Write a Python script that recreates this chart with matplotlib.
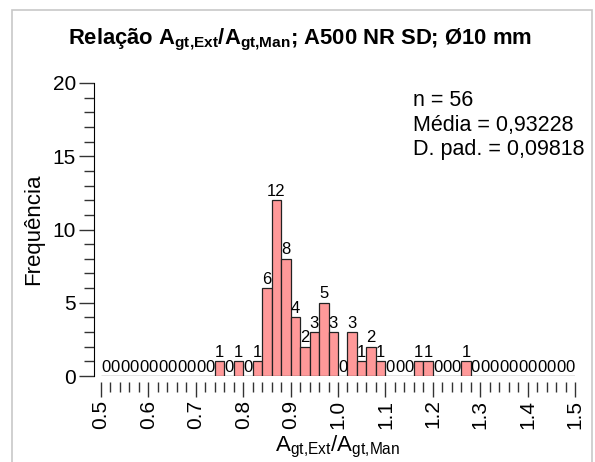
import numpy as np
import matplotlib
matplotlib.use("Agg")
import matplotlib.pyplot as plt
from matplotlib.patches import Rectangle
from matplotlib.ticker import MultipleLocator

plt.rcParams['font.family'] = ['Liberation Sans', 'DejaVu Sans']
plt.rcParams['mathtext.fontset'] = 'custom'
plt.rcParams['mathtext.rm'] = 'Liberation Sans'
plt.rcParams['mathtext.bf'] = 'Liberation Sans:bold'

# Data
bin_start = 0.5
bin_width = 0.02
counts = [0, 0, 0, 0, 0, 0, 0, 0, 0, 0, 0, 0,
          1, 0, 1, 0, 1, 6, 12, 8, 4, 2, 3, 5, 3, 0, 3, 1, 2, 1,
          0, 0, 0, 1, 1, 0, 0, 0, 1,
          0, 0, 0, 0, 0, 0, 0, 0, 0, 0, 0]
x_ticks = [0.5, 0.6, 0.7, 0.8, 0.9, 1.0, 1.1, 1.2, 1.3, 1.4, 1.5]
x_ticklabels = ["0.5", "0.6", "0.7", "0.8", "0.9", "1.0", "1.1", "1.2", "1.3", "1.4", "1.5"]
y_ticks = [0, 5, 10, 15, 20]
stats_lines = ["n = 56", "Média = 0,93228", "D. pad. = 0,09818"]

lefts = bin_start + bin_width * np.arange(len(counts))

fig = plt.figure(figsize=(5.95, 4.62), dpi=100)
ax = fig.add_axes([101/595, 1-376/462, (575-101)/595, (376-83)/462])

bars = ax.bar(lefts, counts, width=bin_width, align='edge',
              color='#ff9999', edgecolor='#222222', linewidth=0.9)
ax.bar_label(bars, padding=1, fontsize=12)

ax.set_xlim(0.5, 1.5)
ax.set_ylim(0, 20)

for s in ['top', 'right']:
    ax.spines[s].set_visible(False)
ax.spines['left'].set_position(('outward', 5))
ax.spines['bottom'].set_position(('outward', 4))
ax.spines['bottom'].set_visible(False)

ax.set_xticks(x_ticks)
ax.set_xticklabels(x_ticklabels, rotation=90, fontsize=15)
ax.xaxis.set_minor_locator(MultipleLocator(0.02))
ax.set_yticks(y_ticks)
ax.set_yticklabels([str(v) for v in y_ticks], fontsize=15)
ax.yaxis.set_minor_locator(MultipleLocator(1))
ax.tick_params(axis='both', which='major', length=11, width=1, color='#333333', pad=2)
ax.tick_params(axis='both', which='minor', length=7, width=1, color='#333333')

ax.set_ylabel("Frequência", fontsize=16, labelpad=6)
ax.set_xlabel(r"A$_{\mathregular{gt{,}Ext}}$/A$_{\mathregular{gt{,}Man}}$", fontsize=16, labelpad=4)

for i, line in enumerate(stats_lines):
    ax.text(413/595, 1-100/462 - i*25/462, line, transform=fig.transFigure,
            fontsize=15.5, va='center', ha='left')

fig.text(300/595, 1-40/462,
         r"Relação A$_{\mathbf{gt{,}Ext}}$/A$_{\mathbf{gt{,}Man}}$; A500 NR SD; Ø10 mm",
         fontsize=15.8, fontweight='bold', ha='center', va='center')

fig.patches.append(Rectangle((12/595, -0.1), (592-12)/595, 1.1 - 10/462,
                             transform=fig.transFigure, fill=False,
                             edgecolor='#c8c8c8', linewidth=1.2))

fig.savefig("out.png", dpi=100)
